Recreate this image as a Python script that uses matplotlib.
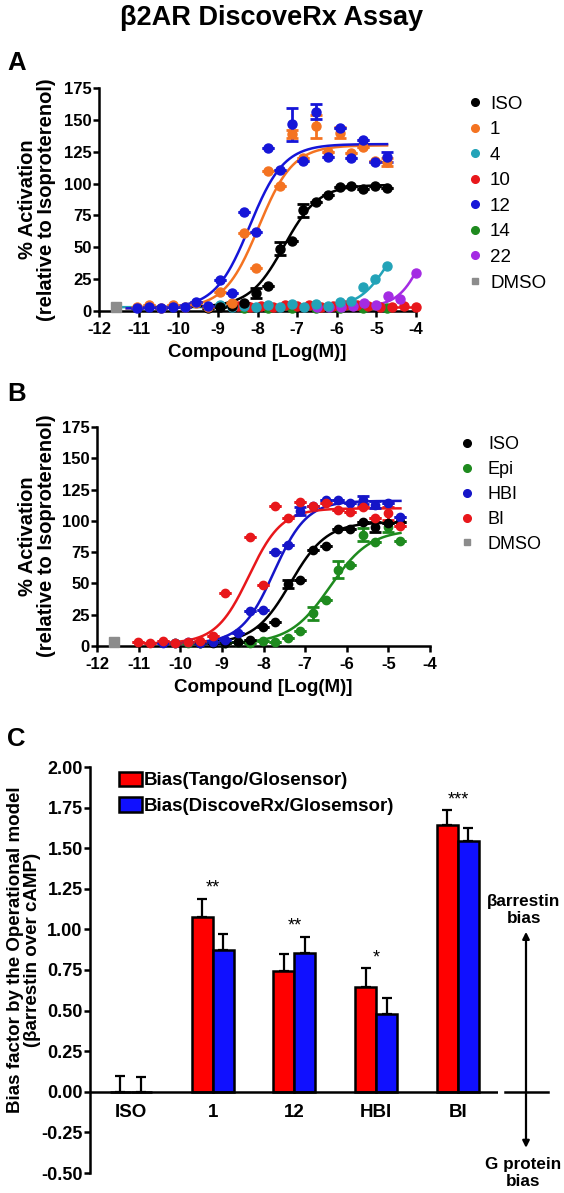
import numpy as np
import matplotlib
matplotlib.use("Agg")
import matplotlib.pyplot as plt
from matplotlib.lines import Line2D
from matplotlib.patches import Patch
from matplotlib.transforms import blended_transform_factory

plt.rcParams['font.family'] = ['Liberation Sans', 'DejaVu Sans']
plt.rcParams['axes.unicode_minus'] = False

W, H = 564, 1193

# ---------------- Panel A data ----------------
a_names = ['ISO', '1', '4', '10', '12', '14', '22', 'DMSO']
a_colors = ['#000000', '#F47321', '#23A3B8', '#E8171B', '#1515D8', '#1E8A1E', '#A42BE3', '#8C8C8C']

a_iso_x = [-4.73, -5.03, -5.33, -5.63, -5.93, -6.23, -6.53, -6.84, -7.14, -7.44, -7.74, -8.04, -8.34, -8.64, -8.94, -9.24]
a_iso_y = [96.5, 98, 96, 98, 97.5, 91, 85.5, 79, 55, 49, 19.5, 14, 6, 4, 3, 2.5]
a_iso_e = [0, 0, 0, 0, 0, 0, 0, 5, 0, 5, 0, 4, 0, 0, 0, 0]

a_c1_x = [-4.73, -5.03, -5.33, -5.63, -5.93, -6.23, -6.53, -6.84, -7.14, -7.44, -7.74, -8.04, -8.34, -8.64, -8.94, -9.24, -9.54, -9.84, -10.14, -10.44, -10.74, -11.04]
a_c1_y = [117, 118, 129, 124, 140, 125, 145, 120, 139, 98, 110, 33.5, 61.5, 6, 15, 3, 6, 3, 5, 2, 4.5, 3.5]
a_c1_e = [3, 0, 0, 0, 4.5, 0, 9, 0, 3, 0, 0, 0, 0, 0, 0, 0, 0, 0, 0, 0, 0, 0]

a_c4_x = [-4.73, -5.03, -5.33, -5.63, -5.93, -6.23, -6.53, -6.83, -7.14, -7.44, -7.74, -8.04, -8.34, -8.64, -8.94]
a_c4_y = [35.5, 25, 19, 7.5, 7, 4, 5.5, 3, 5.5, 3, 5, 3, 4, 3, 5]

a_c10_x = [-4.0, -4.3, -4.6, -4.9, -5.2, -5.5, -5.8, -6.1, -6.4, -6.7, -7.0, -7.3, -7.6, -7.9, -8.2, -8.5]
a_c10_y = [3, 4, 3.5, 3, 4, 4.5, 5, 4, 3.5, 5, 4, 4.5, 3, 4, 3, 4]

a_c12_x = [-4.73, -5.03, -5.33, -5.63, -5.93, -6.23, -6.53, -6.84, -7.14, -7.44, -7.74, -8.04, -8.34, -8.64, -8.94, -9.24, -9.54, -9.84, -10.14, -10.44, -10.74, -11.04]
a_c12_y = [121, 117, 134, 120, 144, 121, 156.5, 118, 146.5, 111, 128, 62, 77.5, 14, 24.5, 4, 7, 3, 3, 2, 3, 2.5]
a_c12_e = [4, 0, 0, 0, 0, 0, 6, 0, 13, 0, 0, 0, 0, 0, 0, 0, 0, 0, 0, 0, 0, 0]

a_c14_x = [-4.73, -5.33, -5.93, -6.53, -7.14, -7.74, -8.34]
a_c14_y = [2.5, 2, 2.5, 2, 2.5, 2, 2.5]

a_c22_x = [-4.0, -4.4, -4.7, -5.0, -5.3, -5.6, -5.9, -6.2, -6.5]
a_c22_y = [29.5, 9.5, 11.5, 5, 6, 4, 3, 3.5, 3]

a_dmso_x = [-11.57]
a_dmso_y = [3]

# fitted curve parameters (bottom, top, logEC50, hill, start, end)
a_fit_bottom = [3, 2, 3, 3, 2, 2, 3]
a_fit_top = [99, 130, 70, 3, 131, 2, 100]
a_fit_logec50 = [-7.33, -7.97, -4.72, -6.0, -8.2, -6.0, -3.7]
a_fit_hill = [1.0, 1.0, 1.2, 1.0, 1.0, 1.0, 1.3]
a_fit_start = [-11.0, -11.3, -11.6, -7.3, -11.3, -8.3, -6.5]
a_fit_end = [-4.73, -4.73, -4.73, -4.0, -4.73, -4.73, -4.0]

# ---------------- Panel B data ----------------
b_names = ['ISO', 'Epi', 'HBI', 'BI', 'DMSO']
b_colors = ['#000000', '#1E8A1E', '#1515C8', '#E8171B', '#8C8C8C']

b_iso_x = [-4.71, -5.01, -5.31, -5.61, -5.91, -6.21, -6.51, -6.82, -7.12, -7.42, -7.72, -8.02, -8.32, -8.62, -8.92, -9.22, -9.52]
b_iso_y = [99, 98, 95, 99, 93.4, 93.4, 80, 77, 53, 49.5, 19, 15.4, 5, 3, 2, 2.5, 2]
b_iso_e = [0, 0, 4, 0, 0, 0, 0, 0, 0, 3.5, 0, 0, 0, 0, 0, 0, 0]

b_epi_x = [-4.71, -5.01, -5.31, -5.61, -5.91, -6.21, -6.51, -6.82, -7.12, -7.42, -7.72, -8.02, -8.32, -8.62, -8.92, -9.22, -9.52, -9.82, -10.12]
b_epi_y = [84, 95, 83, 89, 65, 61, 36.5, 26, 12, 6, 3, 4, 2, 3, 2, 3, 2, 2.5, 2]
b_epi_e = [0, 4, 0, 5, 0, 7, 0, 5, 0, 0, 0, 0, 0, 0, 0, 0, 0, 0, 0]

b_hbi_x = [-4.71, -5.01, -5.31, -5.61, -5.91, -6.21, -6.51, -6.82, -7.12, -7.42, -7.72, -8.02, -8.32, -8.62, -8.92, -9.22, -9.52, -9.82, -10.12, -10.42]
b_hbi_y = [103, 114, 113, 116.5, 114, 116.5, 116.5, 112, 108, 80.5, 75, 29, 28, 10, 5, 3, 2, 3, 2, 2.5]
b_hbi_e = [0, 0, 3, 3, 0, 0, 0, 0, 3, 0, 0, 0, 0, 0, 0, 0, 0, 0, 0, 0]

b_bi_x = [-4.71, -5.01, -5.31, -5.61, -5.91, -6.21, -6.51, -6.82, -7.12, -7.42, -7.72, -8.02, -8.32, -8.92, -9.22, -9.52, -9.82, -10.12, -10.42, -10.72, -11.02]
b_bi_y = [96, 106, 102, 111, 107, 109, 114, 111.7, 115, 102, 111.7, 49, 87, 42, 8, 4, 3, 2, 4, 2, 3]
b_bi_e = [0, 5, 0, 0, 0, 0, 0, 0, 0, 0, 0, 0, 0, 0, 0, 0, 0, 0, 0, 0, 0]

b_dmso_x = [-11.6]
b_dmso_y = [3]

b_fit_bottom = [2, 2, 2, 2]
b_fit_top = [99, 93, 116, 110]
b_fit_logec50 = [-7.35, -6.4, -7.75, -8.35]
b_fit_hill = [1.0, 0.9, 1.1, 1.1]
b_fit_start = [-9.52, -10.12, -10.42, -11.02]
b_fit_end = [-4.71, -4.71, -4.71, -4.71]

# ---------------- Panel C data ----------------
c_groups = ['ISO', '1', '12', 'HBI', 'BI']
c_tango = [0.0, 1.075, 0.745, 0.648, 1.645]
c_tango_err = [0.10, 0.113, 0.105, 0.112, 0.09]
c_discx = [0.0, 0.872, 0.856, 0.48, 1.542]
c_discx_err = [0.094, 0.10, 0.098, 0.10, 0.083]
c_stars = ['', '**', '**', '*', '***']
c_series = ['Bias(Tango/Glosensor)', 'Bias(DiscoveRx/Glosemsor)']

# ---------------- helpers ----------------
def rect(l, t, r, b):
    return [l / W, 1 - b / H, (r - l) / W, (b - t) / H]


def hill(x, bottom, top, logec50, h):
    x = np.asarray(x)
    return bottom + (top - bottom) / (1 + 10 ** ((logec50 - x) * h))


LW = 1.8

fig = plt.figure(figsize=(W / 100, H / 100), dpi=100)


def style_axes(ax, fs=12):
    for s in ['top', 'right']:
        ax.spines[s].set_visible(False)
    for s in ['left', 'bottom']:
        ax.spines[s].set_linewidth(LW)
    ax.tick_params(direction='out', length=4.5, width=LW, labelsize=fs)
    ax.tick_params(axis='x', pad=3.5)
    ax.tick_params(axis='y', pad=0.8)
    for lab in ax.get_xticklabels() + ax.get_yticklabels():
        lab.set_fontweight('bold')


def draw_series(ax, x, y, color, err=None, marker='o', ms=6.5):
    if err is not None:
        ax.errorbar(x, y, yerr=err, fmt='none', ecolor=color, elinewidth=2,
                    capsize=4, capthick=2, clip_on=False, zorder=3)
    ax.plot(x, y, ls='', marker=marker, ms=ms, color=color, mec=color,
            clip_on=False, zorder=4)


def draw_fit(ax, i, bottoms, tops, ec50s, hills, starts, ends, color):
    xs = np.linspace(starts[i], ends[i], 300)
    ax.plot(xs, hill(xs, bottoms[i], tops[i], ec50s[i], hills[i]), color=color,
            lw=1.8, clip_on=False, zorder=2)


# ---------------- Panel A ----------------
axA = fig.add_axes(rect(99, 88, 416, 311))
a_series = [
    (a_iso_x, a_iso_y, a_iso_e),
    (a_c1_x, a_c1_y, a_c1_e),
    (a_c4_x, a_c4_y, None),
    (a_c10_x, a_c10_y, None),
    (a_c12_x, a_c12_y, a_c12_e),
    (a_c14_x, a_c14_y, None),
    (a_c22_x, a_c22_y, None),
]
order_a = [5, 3, 6, 2, 0, 1, 4]
for i in order_a:
    draw_fit(axA, i, a_fit_bottom, a_fit_top, a_fit_logec50, a_fit_hill,
             a_fit_start, a_fit_end, a_colors[i])
for i in order_a:
    x, y, e = a_series[i]
    draw_series(axA, x, y, a_colors[i], e)
draw_series(axA, a_dmso_x, a_dmso_y, a_colors[7], marker='s', ms=6.5)
axA.set_xlim(-12, -4)
axA.set_ylim(0, 175)
axA.set_xticks(np.arange(-12, -3, 1))
axA.set_yticks(np.arange(0, 176, 25))
style_axes(axA)
axA.set_xlabel('Compound [Log(M)]', fontsize=13.5, fontweight='bold', labelpad=5)

handlesA = [Line2D([], [], ls='', marker='o', ms=5.5, color=c) for c in a_colors[:7]]
handlesA.append(Line2D([], [], ls='', marker='s', ms=5, color=a_colors[7]))
axA.legend(handlesA, a_names, loc='upper left', bbox_to_anchor=(467.5 / W, 1 - 95.5 / H),
           bbox_transform=fig.transFigure, frameon=False, fontsize=13.5,
           handlelength=0.8, handletextpad=0.4, labelspacing=0.45,
           borderpad=0, borderaxespad=0)

# ---------------- Panel B ----------------
axB = fig.add_axes(rect(97, 427, 430, 646))
b_series = [
    (b_iso_x, b_iso_y, b_iso_e),
    (b_epi_x, b_epi_y, b_epi_e),
    (b_hbi_x, b_hbi_y, b_hbi_e),
    (b_bi_x, b_bi_y, b_bi_e),
]
for i in range(4):
    draw_fit(axB, i, b_fit_bottom, b_fit_top, b_fit_logec50, b_fit_hill,
             b_fit_start, b_fit_end, b_colors[i])
for i in [1, 0, 2, 3]:
    x, y, e = b_series[i]
    draw_series(axB, x, y, b_colors[i], e, ms=6)
draw_series(axB, b_dmso_x, b_dmso_y, b_colors[4], marker='s', ms=6.5)
axB.set_xlim(-12, -4)
axB.set_ylim(0, 175)
axB.set_xticks(np.arange(-12, -3, 1))
axB.set_yticks(np.arange(0, 176, 25))
style_axes(axB)
axB.set_xlabel('Compound [Log(M)]', fontsize=13.5, fontweight='bold', labelpad=5)

handlesB = [Line2D([], [], ls='', marker='o', ms=5.5, color=c) for c in b_colors[:4]]
handlesB.append(Line2D([], [], ls='', marker='s', ms=5, color=b_colors[4]))
axB.legend(handlesB, b_names, loc='upper left', bbox_to_anchor=(459.8 / W, 1 - 436 / H),
           bbox_transform=fig.transFigure, frameon=False, fontsize=13,
           handlelength=0.8, handletextpad=0.76, labelspacing=0.44,
           borderpad=0, borderaxespad=0)

for txt, yc in [('% Activation\n(relative to Isoproterenol)', 199.5),
                ('% Activation\n(relative to Isoproterenol)', 536)]:
    fig.text(37 / W, 1 - yc / H, txt, rotation=90, ha='center', va='center',
             multialignment='center', fontsize=14.5, fontweight='bold', linespacing=0.95)

# ---------------- Panel C ----------------
axC = fig.add_axes(rect(90, 767, 498, 1173))
pos = np.arange(len(c_groups))
bw = 0.257
axC.bar(pos - bw / 2, c_tango, bw, color='#FF0000', edgecolor='black', linewidth=1.8, zorder=2)
axC.bar(pos + bw / 2, c_discx, bw, color='#1010FF', edgecolor='black', linewidth=1.8, zorder=2)
axC.errorbar(pos - bw / 2, c_tango, yerr=[np.zeros(len(pos)), c_tango_err], fmt='none',
             ecolor='black', elinewidth=1.6, capsize=3.5, capthick=1.6, zorder=1)
axC.errorbar(pos + bw / 2, c_discx, yerr=[np.zeros(len(pos)), c_discx_err], fmt='none',
             ecolor='black', elinewidth=1.6, capsize=3.5, capthick=1.6, zorder=1)
axC.axhline(0, color='black', lw=LW, zorder=3)
for i, s in enumerate(c_stars):
    if s:
        top = max(c_tango[i] + c_tango_err[i], c_discx[i] + c_discx_err[i])
        axC.text(pos[i], top + 0.037, s, ha='center', va='baseline', fontsize=13)
    axC.text(pos[i], -0.13, c_groups[i], ha='center', va='center', fontsize=13.5,
             fontweight='bold')
axC.set_xlim(-0.5, 4.49)
axC.set_ylim(-0.5, 2.0)
axC.set_yticks(np.arange(-0.5, 2.01, 0.25))
axC.set_yticklabels(['%.2f' % v for v in np.arange(-0.5, 2.01, 0.25)])
axC.set_xticks([])
axC.spines['bottom'].set_visible(False)
style_axes(axC, fs=13)

fig.text(24 / W, 1 - 950 / H, 'Bias factor by the Operational model\n(βarrestin over cAMP)',
         rotation=90, ha='center', va='center', multialignment='center',
         fontsize=13.5, fontweight='bold', linespacing=1.05)

handlesC = [Patch(facecolor='#FF0000', edgecolor='black', linewidth=1.8),
            Patch(facecolor='#1010FF', edgecolor='black', linewidth=1.8)]
axC.legend(handlesC, c_series, loc='upper left', bbox_to_anchor=(119 / W, 1 - 771.5 / H),
           bbox_transform=fig.transFigure, frameon=False,
           handlelength=1.23, handleheight=0.85, handletextpad=0.1, labelspacing=0.38,
           borderpad=0, borderaxespad=0, prop={'weight': 'bold', 'size': 13.5})

blend = blended_transform_factory(fig.transFigure, axC.transData)
axC.plot([505 / W, 548 / W], [0, 0], color='black', lw=LW, transform=blend, clip_on=False)
axC.annotate('', xy=(526 / W, -0.345), xytext=(526 / W, 0.985), xycoords=blend,
             textcoords=blend,
             arrowprops=dict(arrowstyle='<|-|>', color='black', lw=1.6, mutation_scale=10,
                             shrinkA=0, shrinkB=0))
fig.text(524 / W, 1 - 910 / H, 'βarrestin\nbias', ha='center', va='center',
         fontsize=12.3, fontweight='bold', linespacing=1.2)
fig.text(523 / W, 1 - 1173 / H, 'G protein\nbias', ha='center', va='center',
         fontsize=12.3, fontweight='bold', linespacing=1.2)

# ---------------- titles / panel letters ----------------
fig.text(272 / W, 1 - 18 / H, 'β2AR DiscoveRx Assay', ha='center', va='center',
         fontsize=19.5, fontweight='bold')
for letter, yc in [('A', 63), ('B', 394), ('C', 739)]:
    fig.text(7 / W, 1 - yc / H, letter, ha='left', va='center', fontsize=18.5,
             fontweight='bold')

fig.savefig('out.png', dpi=100)
